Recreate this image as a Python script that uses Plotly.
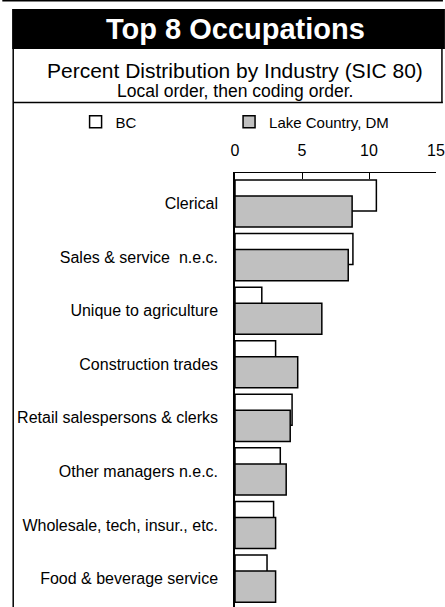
import plotly.graph_objects as go

occupations = [
    "Clerical",
    "Sales & service  n.e.c.",
    "Unique to agriculture",
    "Construction trades",
    "Retail salespersons & clerks",
    "Other managers n.e.c.",
    "Wholesale, tech, insur., etc.",
    "Food & beverage service",
]
bc_pct = [10.55, 8.8, 2.0, 3.03, 4.26, 3.38, 2.88, 2.39]
lake_country_pct = [8.74, 8.45, 6.48, 4.68, 4.12, 3.82, 3.03, 3.03]
x_ticks = [0, 5, 10, 15]

W, H = 445, 607
ML, MR, MT, MB = 235, 7, 173, 0
FONT = "Liberation Sans, Arial, sans-serif"


def px(x):
    return (x - ML) / (W - ML - MR)


def py(y):
    return (H - MB - y) / (H - MT - MB)


fig = go.Figure()
fig.add_trace(go.Bar(
    y=occupations, x=bc_pct, orientation="h", name="BC", legend="legend",
    width=0.58, offset=-0.44,
    marker=dict(color="white", line=dict(color="black", width=1.5)),
))
fig.add_trace(go.Bar(
    y=occupations, x=lake_country_pct, orientation="h", name="Lake Country, DM", legend="legend2",
    width=0.58, offset=-0.14,
    marker=dict(color="#c0c0c0", line=dict(color="black", width=1.5)),
))

line = dict(color="black", width=1.5)
shapes = [
    dict(type="line", x0=px(0), x1=px(W), y0=py(0.8), y1=py(0.8), line=line),
    dict(type="rect", x0=px(10), x1=px(W + 2), y0=py(9), y1=py(49), fillcolor="black", line=dict(width=0)),
    dict(type="line", x0=px(11), x1=px(11), y0=py(9), y1=py(H + 2), line=line),
    dict(type="line", x0=px(444), x1=px(444), y0=py(49), y1=py(102), line=line),
    dict(type="line", x0=px(11), x1=px(W), y0=py(102.5), y1=py(102.5), line=line),
]
for s in shapes:
    s.update(xref="paper", yref="paper", layer="below")

annotations = [
    dict(text="<b>Top 8 Occupations</b>", x=px(235), y=py(29), size=29, color="white"),
    dict(text="Percent Distribution by Industry (SIC 80)", x=px(235), y=py(70), size=21, color="black"),
    dict(text="Local order, then coding order.", x=px(235), y=py(91), size=17.5, color="black"),
]
annotations = [
    dict(text=a["text"], x=a["x"], y=a["y"], xref="paper", yref="paper",
         showarrow=False, xanchor="center", yanchor="middle",
         font=dict(family=FONT, size=a["size"], color=a["color"]))
    for a in annotations
]

legend_style = dict(
    orientation="h", xref="paper", yref="paper", xanchor="left", yanchor="middle",
    font=dict(family=FONT, size=15, color="black"), bgcolor="rgba(0,0,0,0)",
)

fig.update_layout(
    width=W, height=H,
    margin=dict(l=ML, r=MR, t=MT, b=MB, pad=0),
    paper_bgcolor="white", plot_bgcolor="white",
    barmode="overlay",
    font=dict(family=FONT, size=15, color="black"),
    shapes=shapes,
    annotations=annotations,
    showlegend=True,
    legend=dict(legend_style, x=px(74), y=py(122)),
    legend2=dict(legend_style, x=px(229), y=py(122)),
    xaxis=dict(
        range=[0, 15], side="top", tickvals=x_ticks, showgrid=False, zeroline=False,
        showline=True, linecolor="black", linewidth=1, ticks="inside", ticklen=6,
        tickcolor="black", tickfont=dict(family=FONT, size=16), ticklabelstandoff=10,
        ticklabeloverflow="allow",
    ),
    yaxis=dict(
        type="category", range=[7.53, -0.57], showgrid=False, zeroline=False,
        showline=True, linecolor="black", linewidth=1.5, ticks="",
        tickfont=dict(family=FONT, size=16), ticklabelstandoff=12,
    ),
)

fig.write_html("out.html", config={"displayModeBar": False},
               post_script="document.body.style.margin = '0';")
